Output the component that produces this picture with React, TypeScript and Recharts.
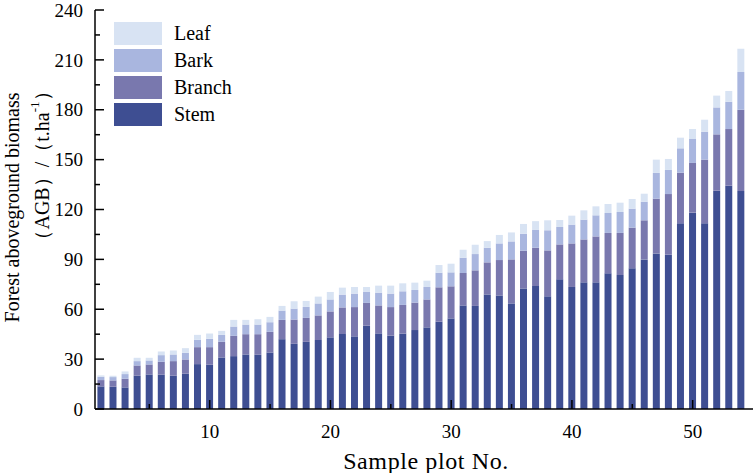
import React from "react";
import { BarChart, Bar, XAxis, YAxis } from "recharts";

const plots = Array.from({ length: 54 }, (_, i) => i + 1);

const stem = [
  13.6, 13.4, 13.0, 20.0, 20.8, 20.6, 20.0, 21.2, 27.0, 26.6,
  31.0, 31.8, 32.8, 32.6, 34.0, 42.0, 39.2, 40.4, 41.5, 43.1,
  45.1, 43.7, 50.1, 45.5, 44.1, 45.3, 47.5, 49.1, 52.5, 54.5,
  62.3, 62.0, 68.9, 68.3, 63.5, 72.5, 74.0, 67.8, 78.0, 73.4,
  76.2, 76.2, 81.6, 80.6, 84.6, 90.0, 93.6, 92.8, 111.7, 118.1,
  111.7, 131.3, 134.3, 131.1,
];
const branch = [
  3.8, 3.8, 5.2, 6.2, 6.0, 7.8, 8.8, 8.6, 10.2, 10.6,
  9.4, 12.2, 12.2, 12.4, 12.4, 11.6, 14.6, 14.4, 14.8, 15.6,
  16.0, 17.6, 13.7, 16.8, 17.2, 17.3, 16.5, 16.8, 20.7, 19.3,
  19.5, 21.4, 19.3, 21.3, 26.5, 22.7, 23.0, 27.6, 21.0, 26.2,
  25.8, 27.6, 24.3, 25.3, 24.5, 23.5, 32.9, 36.5, 30.4, 29.9,
  38.3, 33.9, 34.1, 48.9,
];
const bark = [
  2.0, 2.0, 2.8, 2.6, 2.4, 4.0, 4.0, 4.0, 4.4, 5.0,
  4.2, 5.6, 5.8, 5.8, 5.8, 5.6, 6.6, 6.6, 7.2, 7.2,
  7.7, 8.1, 6.8, 7.7, 8.1, 8.2, 7.6, 7.5, 8.8, 8.4,
  9.2, 9.8, 8.8, 10.0, 10.8, 10.2, 10.7, 12.1, 10.5, 11.3,
  11.9, 12.7, 12.0, 12.6, 11.4, 11.2, 15.5, 14.5, 14.7, 14.4,
  16.8, 16.2, 16.4, 22.7,
];
const leaf = [
  0.8, 0.8, 1.6, 2.0, 1.6, 2.2, 2.4, 2.8, 3.0, 3.2,
  2.4, 4.0, 2.8, 3.2, 3.2, 2.8, 4.4, 3.6, 4.1, 4.5,
  4.2, 4.0, 2.8, 4.2, 4.8, 4.8, 4.4, 3.8, 4.6, 5.2,
  4.8, 5.6, 4.0, 5.1, 5.4, 5.9, 5.3, 6.0, 4.2, 5.4,
  5.6, 5.4, 5.4, 5.6, 5.8, 4.8, 8.0, 6.6, 6.4, 6.0,
  7.2, 7.1, 6.5, 14.0,
];

const yTicks = [0, 15, 30, 45, 60, 75, 90, 105, 120, 135, 150, 165, 180, 195, 210, 225, 240];

const COLORS = {
  Leaf: "#d8e3f3",
  Bark: "#a9b6df",
  Branch: "#7978ae",
  Stem: "#3e4e92",
};
const legendOrder = ["Leaf", "Bark", "Branch", "Stem"] as const;

const FONT = "'Liberation Serif', 'Times New Roman', serif";

const data = plots.map((p, i) => ({
  plot: p,
  Stem: stem[i],
  Branch: branch[i],
  Bark: bark[i],
  Leaf: leaf[i],
}));

function XTick(props: any) {
  const { x, y, payload } = props;
  const v = Number(payload.value);
  if (v % 5 !== 0) return null;
  const major = v % 10 === 0;
  return (
    <g>
      <line x1={x} x2={x} y1={y} y2={y - (major ? 9 : 5)} stroke="#000" strokeWidth={1.5} />
      {major && (
        <text x={x} y={y + 29} textAnchor="middle" fontSize={19} fontFamily={FONT} fill="#000">
          {v}
        </text>
      )}
    </g>
  );
}

function YTick(props: any) {
  const { x, y, payload } = props;
  const v = Number(payload.value);
  const major = v % 30 === 0;
  return (
    <g>
      <line x1={x} x2={x + (major ? 9 : 5)} y1={y} y2={y} stroke="#000" strokeWidth={1.5} />
      {major && (
        <text x={x - 12} y={y} dy="0.35em" textAnchor="end" fontSize={19} fontFamily={FONT} fill="#000">
          {v}
        </text>
      )}
    </g>
  );
}

function YLabel({ viewBox }: any) {
  const cy = viewBox.y + viewBox.height / 2;
  const c1 = cy - 2;
  const c2 = cy - 44;
  return (
    <g fontFamily={FONT} fill="#000">
      <text
        x={12}
        y={c1}
        transform={`rotate(-90 12 ${c1})`}
        textAnchor="middle"
        dominantBaseline="central"
        fontSize={20}
      >
        Forest aboveground biomass
      </text>
      <text
        x={42}
        y={c2}
        transform={`rotate(-90 42 ${c2})`}
        textAnchor="middle"
        dominantBaseline="central"
        fontSize={20}
      >
        （AGB）/（t.ha
        <tspan fontSize={13} dy={-8}>-1</tspan>
        <tspan dy={8}>）</tspan>
      </text>
    </g>
  );
}

function XLabel({ viewBox }: any) {
  return (
    <text
      x={viewBox.x + viewBox.width / 2 + 2}
      y={viewBox.y + 60}
      textAnchor="middle"
      fontSize={24}
      letterSpacing={0.6}
      fontFamily={FONT}
      fill="#000"
    >
      Sample plot No.
    </text>
  );
}

function LegendBox() {
  return (
    <div
      style={{
        position: "absolute",
        left: 114,
        top: 20,
        fontFamily: FONT,
        fontSize: 20,
        color: "#000",
        lineHeight: "27px",
      }}
    >
      {legendOrder.map((k) => (
        <div key={k} style={{ display: "flex", alignItems: "center", height: 27 }}>
          <div style={{ width: 48, height: 23, background: COLORS[k], marginRight: 12 }} />
          <span>{k}</span>
        </div>
      ))}
    </div>
  );
}

export default function App() {
  return (
    <div style={{ position: "absolute", left: 0, top: 0, width: 756, height: 473, background: "#fff" }}>
      <BarChart
        width={756}
        height={473}
        data={data}
        margin={{ top: 10, right: 3, left: 0, bottom: 0 }}
        barCategoryGap="20%"
      >
        <XAxis
          dataKey="plot"
          interval={0}
          tickSize={0}
          tickMargin={0}
          tickLine={false}
          tick={<XTick />}
          height={64}
          padding={{ left: 0, right: 6 }}
          axisLine={{ stroke: "#000", strokeWidth: 1.5 }}
          label={<XLabel />}
        />
        <XAxis
          xAxisId="top"
          orientation="top"
          dataKey="plot"
          height={0}
          tick={false}
          tickLine={false}
          axisLine={{ stroke: "#000", strokeWidth: 1.5 }}
        />
        <YAxis
          type="number"
          domain={[0, 240]}
          ticks={yTicks}
          interval={0}
          tickSize={0}
          tickMargin={0}
          tickLine={false}
          tick={<YTick />}
          width={95}
          axisLine={{ stroke: "#000", strokeWidth: 1.5 }}
          label={<YLabel />}
        />
        <YAxis
          yAxisId="right"
          orientation="right"
          type="number"
          domain={[0, 240]}
          width={0}
          tick={false}
          tickLine={false}
          axisLine={{ stroke: "#000", strokeWidth: 1.5 }}
        />
        <Bar dataKey="Stem" stackId="a" fill={COLORS.Stem} isAnimationActive={false} />
        <Bar dataKey="Branch" stackId="a" fill={COLORS.Branch} isAnimationActive={false} />
        <Bar dataKey="Bark" stackId="a" fill={COLORS.Bark} isAnimationActive={false} />
        <Bar dataKey="Leaf" stackId="a" fill={COLORS.Leaf} isAnimationActive={false} />
      </BarChart>
      <LegendBox />
    </div>
  );
}
